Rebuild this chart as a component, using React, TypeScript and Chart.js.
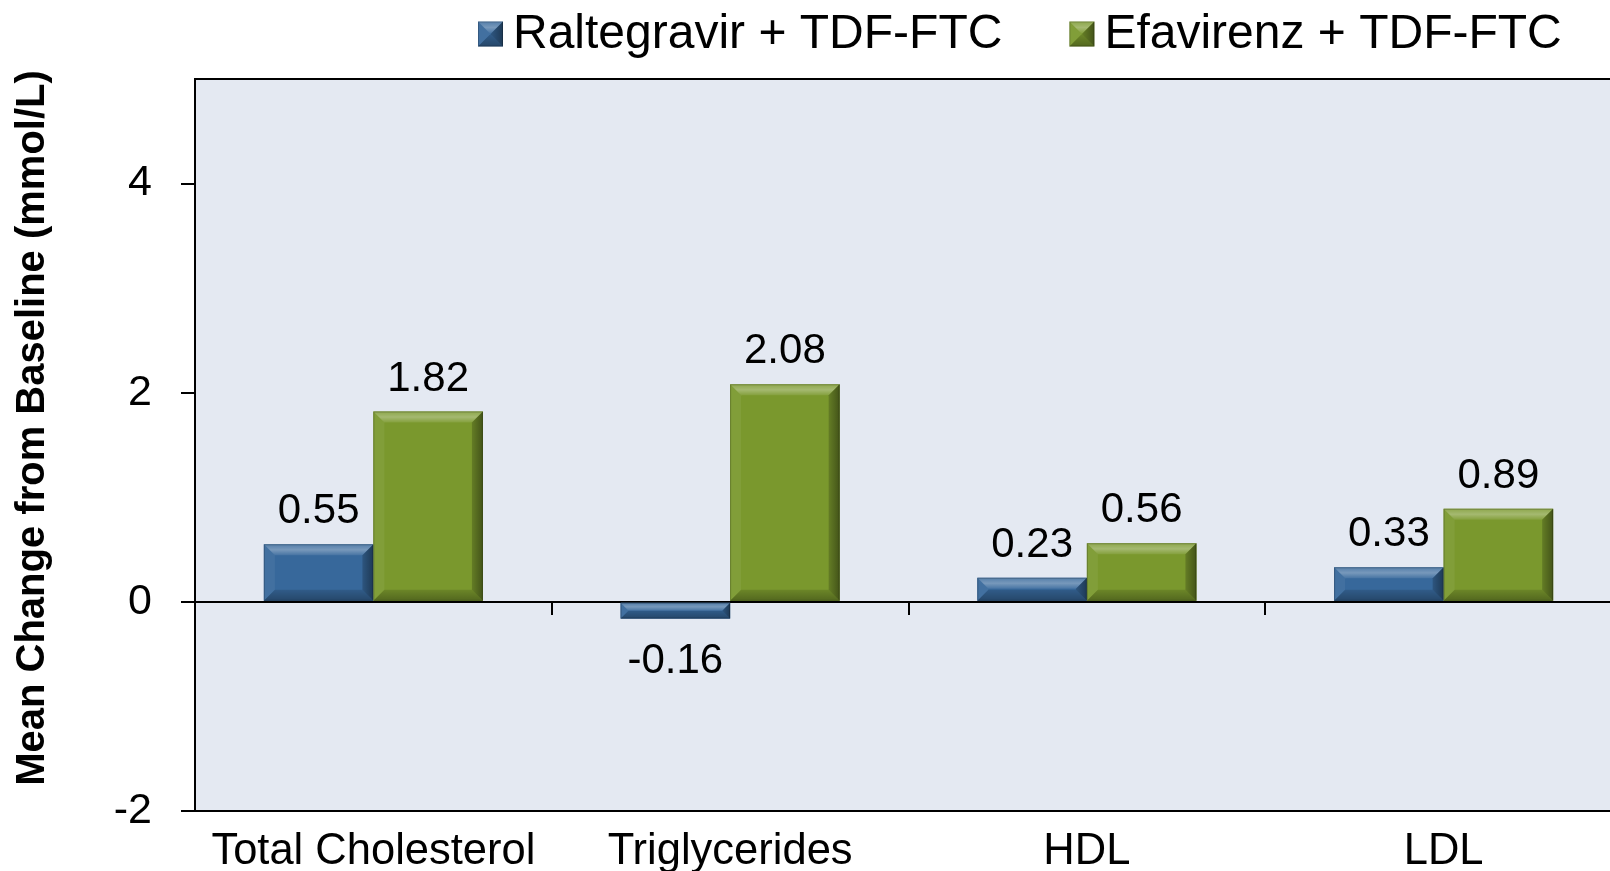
import React, { useEffect, useRef } from "react";
import { Chart, registerables } from "chart.js";

Chart.register(...registerables);

// ---- data ----
const categories = ["Total Cholesterol", "Triglycerides", "HDL", "LDL"];
const seriesNames = ["Raltegravir + TDF-FTC", "Efavirenz + TDF-FTC"];
const raltegravirValues = [0.55, -0.16, 0.23, 0.33];
const efavirenzValues = [1.82, 2.08, 0.56, 0.89];
const yTickValues = [-2, 0, 2, 4];
const yMin = -2;
const yMax = 5;
const yTitle = "Mean Change from Baseline (mmol/L)";

// ---- style ----
const FONT = '"Liberation Sans", Arial, Helvetica, sans-serif';
const BLUE = "#37689b";
const GREEN = "#7a982d";
const PLOT_BG = "#e4e9f2";

function bevelRect(ctx: CanvasRenderingContext2D, L: number, T: number, R: number, B: number, size: number, fill: string) {
  const b = Math.max(0, Math.min(size, (B - T) / 2, (R - L) / 2));
  ctx.save();
  ctx.fillStyle = fill;
  ctx.fillRect(L, T, R - L, B - T);
  const poly = (pts: number[][], color: any) => {
    ctx.beginPath();
    ctx.moveTo(pts[0][0], pts[0][1]);
    for (let i = 1; i < pts.length; i++) ctx.lineTo(pts[i][0], pts[i][1]);
    ctx.closePath();
    ctx.fillStyle = color;
    ctx.fill();
  };
  // top (light)
  const gTop = ctx.createLinearGradient(0, T, 0, T + b);
  gTop.addColorStop(0, "rgba(255,255,255,0.15)");
  gTop.addColorStop(0.5, "rgba(255,255,255,0.32)");
  gTop.addColorStop(1, "rgba(255,255,255,0.08)");
  poly([[L, T], [R, T], [R - b, T + b], [L + b, T + b]], gTop);
  // left (slightly light)
  poly([[L, T], [L + b, T + b], [L + b, B - b], [L, B]], "rgba(255,255,255,0.06)");
  // bottom (dark)
  const gB = ctx.createLinearGradient(0, B - b, 0, B);
  gB.addColorStop(0, "rgba(0,0,0,0.12)");
  gB.addColorStop(1, "rgba(0,0,0,0.32)");
  poly([[L, B], [L + b, B - b], [R - b, B - b], [R, B]], gB);
  // right (dark)
  const gR = ctx.createLinearGradient(R - b, 0, R, 0);
  gR.addColorStop(0, "rgba(0,0,0,0.18)");
  gR.addColorStop(1, "rgba(0,0,0,0.45)");
  poly([[R, T], [R, B], [R - b, B - b], [R - b, T + b]], gR);
  ctx.strokeStyle = "rgba(0,0,0,0.2)";
  ctx.lineWidth = 1;
  ctx.strokeRect(L + 0.5, T + 0.5, R - L - 1, B - T - 1);
  ctx.restore();
}

const plotBackground = {
  id: "plotBackground",
  beforeDraw(chart: any) {
    const { ctx, chartArea } = chart;
    ctx.save();
    ctx.fillStyle = PLOT_BG;
    ctx.fillRect(chartArea.left, chartArea.top, chartArea.right - chartArea.left, chartArea.bottom - chartArea.top);
    ctx.restore();
  },
  afterDraw(chart: any) {
    const { ctx, chartArea } = chart;
    ctx.save();
    ctx.strokeStyle = "#000";
    ctx.lineWidth = 2;
    ctx.beginPath();
    ctx.moveTo(chartArea.left - 1, chartArea.top);
    ctx.lineTo(chartArea.right, chartArea.top);
    ctx.stroke();
    ctx.restore();
  },
};

const bevelBars = {
  id: "bevelBars",
  afterDatasetsDraw(chart: any) {
    const ctx = chart.ctx;
    chart.data.datasets.forEach((ds: any, i: number) => {
      const meta = chart.getDatasetMeta(i);
      meta.data.forEach((el: any) => {
        const p = el.getProps(["x", "y", "base", "width"], true);
        const L = p.x - p.width / 2;
        const R = p.x + p.width / 2;
        const T = Math.min(p.y, p.base);
        const B = Math.max(p.y, p.base);
        bevelRect(ctx, L, T, R, B, 11, ds.backgroundColor);
      });
    });
  },
};

const dataLabels = {
  id: "dataLabels",
  afterDatasetsDraw(chart: any) {
    const ctx = chart.ctx;
    ctx.save();
    ctx.font = `42px ${FONT}`;
    ctx.fillStyle = "#000";
    ctx.textAlign = "center";
    ctx.textBaseline = "alphabetic";
    chart.data.datasets.forEach((ds: any, i: number) => {
      const meta = chart.getDatasetMeta(i);
      meta.data.forEach((el: any, j: number) => {
        const v = ds.data[j];
        const p = el.getProps(["x", "y"], true);
        const y = v >= 0 ? p.y - 21 : p.y + 54;
        ctx.fillText(v.toFixed(2), p.x, y);
      });
    });
    ctx.restore();
  },
};

const customLegend = {
  id: "customLegend",
  afterDraw(chart: any) {
    const ctx = chart.ctx;
    ctx.save();
    ctx.font = `48px ${FONT}`;
    ctx.textBaseline = "alphabetic";
    ctx.textAlign = "left";
    let x = 478;
    const box = 25;
    const baseline = 48;
    chart.data.datasets.forEach((ds: any) => {
      bevelRect(ctx, x, baseline - 26.5, x + box, baseline - 1.5, 12, ds.backgroundColor);
      ctx.fillStyle = "#000";
      const tx = x + box + 10;
      ctx.fillText(ds.label, tx, baseline);
      x = tx + ctx.measureText(ds.label).width + 67;
    });
    ctx.restore();
  },
};

const yAxisTitle = {
  id: "yAxisTitle",
  afterDraw(chart: any) {
    const ctx = chart.ctx;
    ctx.save();
    ctx.translate(33, 428);
    ctx.rotate(-Math.PI / 2);
    ctx.font = `bold 40px ${FONT}`;
    ctx.fillStyle = "#000";
    ctx.textAlign = "center";
    ctx.textBaseline = "middle";
    ctx.fillText(yTitle, 0, 0);
    ctx.restore();
  },
};

export default function App() {
  const canvasRef = useRef<HTMLCanvasElement | null>(null);

  useEffect(() => {
    if (!canvasRef.current) return;
    const chart = new Chart(canvasRef.current, {
      type: "bar",
      data: {
        labels: categories,
        datasets: [
          {
            label: seriesNames[0],
            data: raltegravirValues,
            backgroundColor: BLUE,
            borderWidth: 0,
            categoryPercentage: 0.614,
            barPercentage: 1.0,
            xAxisID: "x",
            yAxisID: "y",
          },
          {
            label: seriesNames[1],
            data: efavirenzValues,
            backgroundColor: GREEN,
            borderWidth: 0,
            categoryPercentage: 0.614,
            barPercentage: 1.0,
            xAxisID: "x",
            yAxisID: "y",
          },
        ],
      },
      options: {
        animation: false,
        responsive: false,
        events: [],
        layout: { padding: { left: 0, top: 79, right: 18, bottom: 0 } },
        plugins: {
          legend: { display: false },
          tooltip: { enabled: false },
        },
        scales: {
          x: {
            type: "category",
            position: "bottom",
            offset: true,
            grid: { display: false },
            border: { display: true, color: "#000", width: 2 },
            ticks: {
              color: "#000",
              font: { family: FONT, size: 43.5 },
              padding: 7,
              maxRotation: 0,
              autoSkip: false,
            },
            afterFit: (s: any) => {
              s.height = 60;
            },
          },
          xZero: {
            type: "category",
            position: { y: 0 },
            offset: true,
            grid: {
              display: true,
              offset: true,
              drawOnChartArea: false,
              drawTicks: true,
              tickLength: 12,
              color: "#000",
              lineWidth: 2,
            },
            border: { display: true, color: "#000", width: 2 },
            ticks: { display: false },
          },
          y: {
            type: "linear",
            min: yMin,
            max: yMax,
            afterBuildTicks: (s: any) => {
              s.ticks = yTickValues.map((v) => ({ value: v }));
            },
            grid: {
              drawOnChartArea: false,
              drawTicks: true,
              tickLength: 14,
              color: "#000",
              lineWidth: 2,
            },
            border: { display: true, color: "#000", width: 2 },
            ticks: {
              color: "#000",
              font: { family: FONT, size: 43 },
              padding: 29,
            },
            afterFit: (s: any) => {
              s.width = 195;
            },
          },
        },
      } as any,
      plugins: [plotBackground, bevelBars, dataLabels, customLegend, yAxisTitle],
    });
    return () => chart.destroy();
  }, []);

  return (
    <div
      style={{
        position: "fixed",
        left: 0,
        top: 0,
        width: 1610,
        height: 871,
        overflow: "hidden",
        background: "#fff",
      }}
    >
      <canvas ref={canvasRef} width={1640} height={871} style={{ display: "block" }} />
    </div>
  );
}
